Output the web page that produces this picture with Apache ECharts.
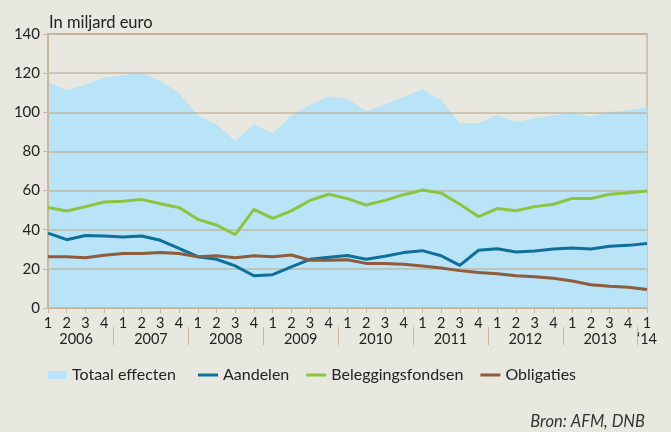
<!DOCTYPE html>
<html>
<head>
<meta charset="utf-8">
<script src="https://cdn.jsdelivr.net/npm/echarts@6/dist/echarts.min.js"></script>
<style>
  html, body { margin: 0; padding: 0; background: #e8e7e0; }
  #chart { width: 671px; height: 432px; }
</style>
</head>
<body>
<div id="chart"></div>
<script>
// kwartalen 2006 Q1 t/m 2014 Q1
var quarters = ['1','2','3','4','1','2','3','4','1','2','3','4','1','2','3','4',
                '1','2','3','4','1','2','3','4','1','2','3','4','1','2','3','4','1'];
var years = ['2006','2007','2008','2009','2010','2011','2012','2013','\u201814'];

var totaal = [115.3,111.2,114.1,117.7,118.9,120.3,116.0,109.7,98.4,93.9,85.3,93.9,89.1,98.4,103.9,108.2,
              106.8,100.5,104.1,108.0,111.6,106.1,94.4,94.4,98.6,95.0,96.9,98.4,99.8,97.9,100.2,101.2,102.4];
var aandelen = [38.3,34.9,37.0,36.8,36.3,36.8,34.6,30.5,26.2,24.9,21.5,16.5,17.0,21.0,24.9,25.9,
                26.8,24.9,26.4,28.3,29.3,26.7,21.8,29.5,30.3,28.6,29.1,30.1,30.7,30.1,31.5,32.0,32.9];
var fondsen = [51.3,49.6,51.8,54.2,54.5,55.5,53.3,51.3,45.3,42.4,37.5,50.4,45.8,49.6,55.0,58.1,
               55.9,52.6,55.0,57.9,60.3,58.8,53.0,46.7,50.8,49.7,51.8,53.0,56.0,55.9,58.1,58.9,59.8];
var obligaties = [26.2,26.2,25.7,26.9,27.8,27.8,28.3,27.8,26.2,26.7,25.7,26.7,26.2,27.1,24.4,24.4,
                  24.7,22.8,22.8,22.3,21.5,20.4,19.1,18.1,17.5,16.5,16.0,15.2,13.8,11.9,11.1,10.6,9.5];

// halve stappen voor jaarlabels en scheidingsstreepjes
var halfSteps = [];
for (var j = 0; j <= (quarters.length - 1) * 2; j++) {
    var lab = '';
    if (j % 8 === 3 && j < 64) lab = years[(j - 3) / 8];
    if (j === 64) lab = years[years.length - 1];
    halfSteps.push(lab);
}

var tan = '#c9b9a0';
var font = 'Lato';

var chart = echarts.init(document.getElementById('chart'));
chart.setOption({
    backgroundColor: '#e8e7e0',
    textStyle: { fontFamily: font },
    title: [
        {
            text: 'In miljard euro',
            left: 44, top: 9,
            textStyle: { fontSize: 16.5, fontWeight: 'normal', color: '#222', fontFamily: font }
        },
        {
            text: 'Bron: AFM, DNB',
            right: 21, top: 408,
            textStyle: { fontSize: 16.5, fontWeight: 'normal', fontStyle: 'italic', color: '#333', fontFamily: font }
        }
    ],
    legend: [
        {
            left: 43, top: 362,
            itemWidth: 19, itemHeight: 8,
            icon: 'rect',
            textStyle: { fontSize: 16, color: '#222', fontFamily: font },
            data: ['Totaal effecten']
        },
        {
            left: 193, top: 362,
            itemWidth: 20, itemHeight: 3, itemGap: 17,
            icon: 'rect',
            textStyle: { fontSize: 16, color: '#222', fontFamily: font },
            data: ['Aandelen', 'Beleggingsfondsen', 'Obligaties']
        }
    ],
    grid: {
        left: 48, right: 24, top: 34, bottom: 124,
        show: true, borderColor: tan, borderWidth: 1.5, backgroundColor: 'transparent'
    },
    xAxis: [
        {
            type: 'category',
            data: quarters,
            boundaryGap: false,
            axisLine: { lineStyle: { color: tan, width: 2 } },
            axisTick: { show: true, length: 5, interval: 0, lineStyle: { color: tan } },
            axisLabel: { interval: 0, margin: 8, fontSize: 14.5, color: '#222', fontFamily: font }
        },
        {
            type: 'category',
            data: halfSteps,
            boundaryGap: false,
            position: 'bottom',
            offset: 19,
            axisLine: { show: false },
            axisTick: {
                show: true, length: 18,
                interval: function (idx) { return idx % 8 === 7; },
                lineStyle: { color: tan }
            },
            axisLabel: { interval: 0, margin: 5, fontSize: 14.5, color: '#222', fontFamily: font }
        }
    ],
    yAxis: {
        type: 'value',
        min: 0, max: 140, interval: 20,
        z: 2.5,
        axisLine: { show: true, lineStyle: { color: tan, width: 2 } },
        axisTick: { show: true, length: 5, lineStyle: { color: tan } },
        axisLabel: { margin: 8, fontSize: 15, color: '#222', fontFamily: font },
        splitLine: { lineStyle: { color: 'rgba(190,170,140,0.75)', width: 1.5 } }
    },
    series: [
        {
            name: 'Totaal effecten',
            type: 'line',
            data: totaal,
            symbol: 'none',
            color: '#b9e3f7',
            lineStyle: { width: 0, opacity: 0 },
            areaStyle: { color: '#b9e3f7', opacity: 1 },
            z: 1
        },
        {
            name: 'Aandelen',
            type: 'line',
            data: aandelen,
            symbol: 'none',
            color: '#0e6f9b',
            lineStyle: { width: 3, color: '#0e6f9b' },
            z: 3
        },
        {
            name: 'Beleggingsfondsen',
            type: 'line',
            data: fondsen,
            symbol: 'none',
            color: '#8cc43f',
            lineStyle: { width: 3, color: '#8cc43f' },
            z: 3
        },
        {
            name: 'Obligaties',
            type: 'line',
            data: obligaties,
            symbol: 'none',
            color: '#8e5b3b',
            lineStyle: { width: 3, color: '#8e5b3b' },
            z: 3
        }
    ]
});
</script>
</body>
</html>
